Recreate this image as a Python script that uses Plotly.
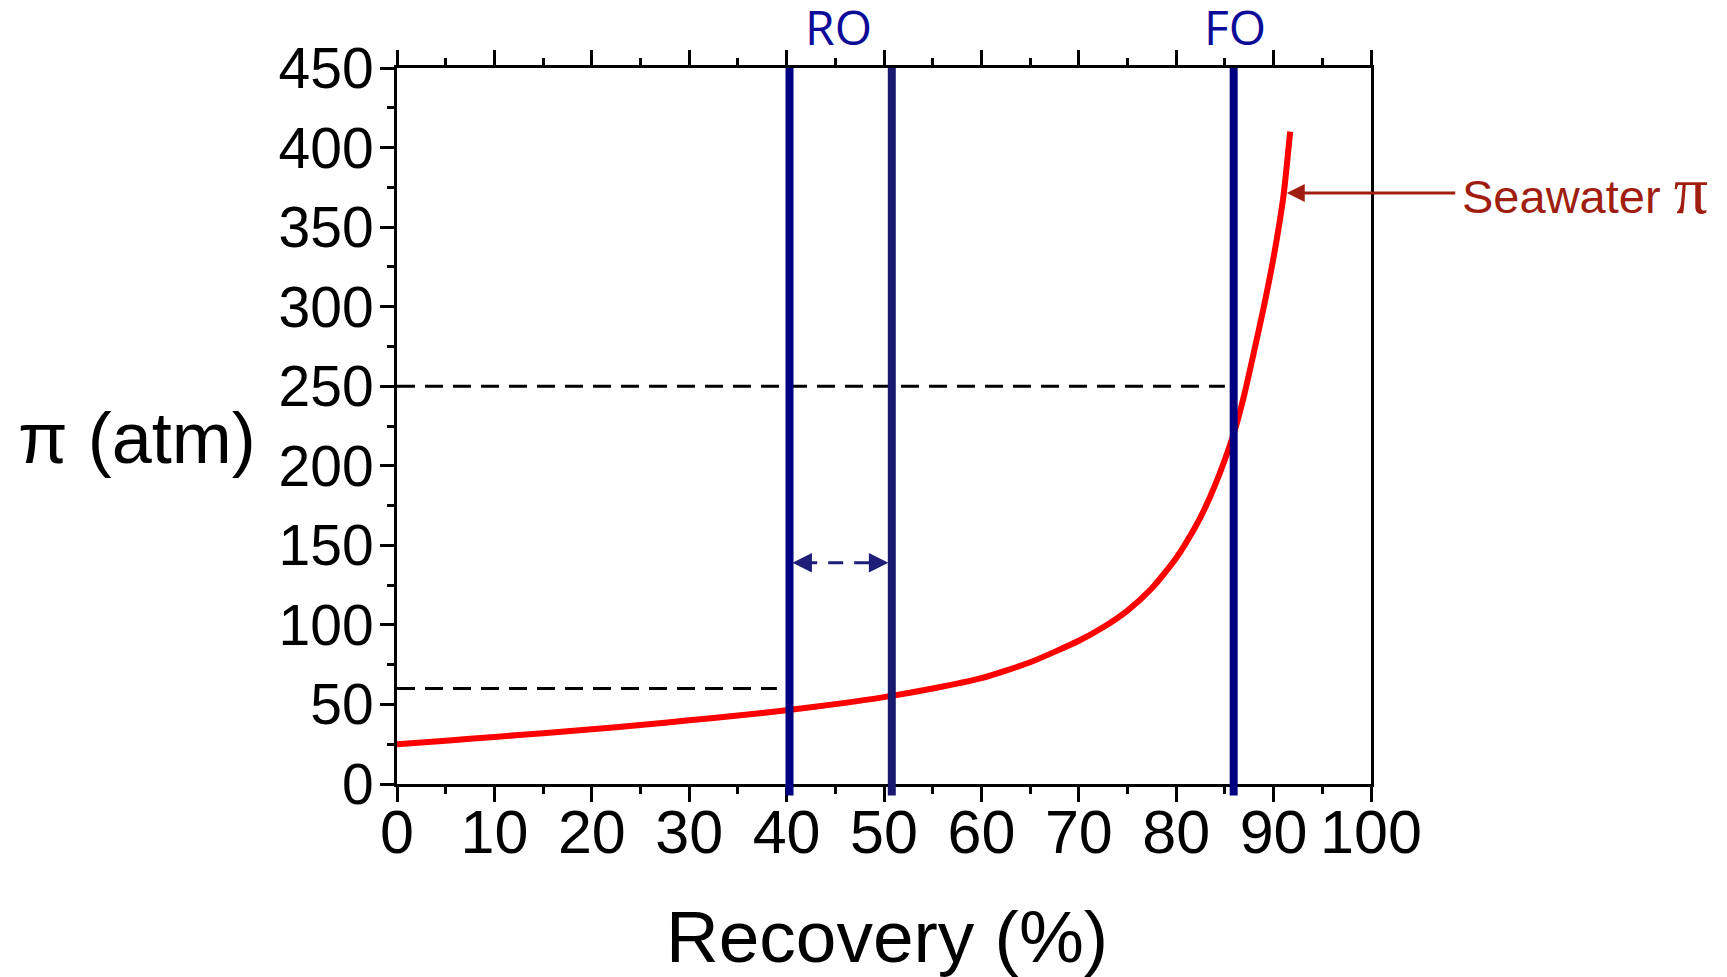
import plotly.graph_objects as go

# ---- data ----
recovery = [0, 5, 10, 15, 20, 25, 30, 35, 40, 45, 50, 55, 60, 65, 70, 72.5, 75, 77.5,
            80, 82, 83, 84, 85, 86, 87, 88, 89, 90, 91, 91.7]
seawater_pi = [25, 27.2, 29.6, 31.9, 34.4, 37.1, 40, 43.1, 46.3, 50.2, 54.6, 60, 66.5, 76.5,
               90, 98.5, 109, 123, 142, 162, 174, 188, 204, 222, 245, 272, 300, 331, 369, 410]

ro_lines = [40.3, 50.8]
fo_line = [85.9]
ref_levels = [60, 250]          # dashed guide levels
ref_level_ends = [39.0, 85.0]   # recovery where each guide ends
ro_arrow_y = 139
x_ticks = list(range(0, 101, 10))
y_ticks = list(range(0, 451, 50))

SANS = "Liberation Sans, Arial, sans-serif"
NAVY = "#000080"
NAVY2 = "#191970"
DARKRED = "#A01E10"

fig = go.Figure()

fig.add_trace(go.Scatter(x=recovery, y=seawater_pi, mode="lines",
                         line=dict(color="#FF0000", width=6, shape="spline", smoothing=0.6),
                         showlegend=False, hoverinfo="skip"))
# invisible trace for top axis
fig.add_trace(go.Scatter(x=[0, 100], y=[0, 0], xaxis="x2", mode="lines",
                         line=dict(width=0), showlegend=False, hoverinfo="skip"))

# dashed horizontal guides
for lvl, xe in zip(ref_levels, ref_level_ends):
    fig.add_shape(type="line", xref="x", yref="y", x0=0, x1=xe, y0=lvl, y1=lvl,
                  line=dict(color="black", width=3, dash="18px,10px"))

# vertical RO / FO lines
for i, xv in enumerate(ro_lines + fo_line):
    fig.add_shape(type="line", xref="x", yref="paper", x0=xv, x1=xv, y0=-0.016, y1=1,
                  line=dict(color=NAVY if i != 1 else NAVY2, width=8))

# RO double arrow (dashed)
fig.add_shape(type="line", xref="x", yref="y", x0=ro_lines[0] + 1.3, x1=ro_lines[1] - 1.3,
              y0=ro_arrow_y, y1=ro_arrow_y,
              line=dict(color="#1E1E78", width=3, dash="15px,11px"))
for xt, ax in [(ro_lines[0] + 0.3, 16), (ro_lines[1] - 0.35, -16)]:
    fig.add_annotation(x=xt, y=ro_arrow_y, xref="x", yref="y", ax=ax, ay=0,
                       axref="pixel", ayref="pixel", text="", showarrow=True,
                       arrowhead=2, arrowsize=1.3, arrowwidth=3, arrowcolor="#1E1E78",
                       standoff=0)

# RO / FO labels
lab_font = dict(family="Open Sans, Noto Sans, sans-serif", size=48, color="#0C0C99")
for xl, txt in [(45.28, "RO"), (fo_line[0] + 0.1, "FO")]:
    fig.add_annotation(x=xl, y=1.0582, xref="x", yref="paper", height=46, valign="middle",
                       xanchor="center", yanchor="middle", text=txt, showarrow=False,
                       font=lab_font)

# Seawater pi arrow + label
fig.add_annotation(x=91.35, y=371.5, xref="x", yref="y", ax=170, ay=0,
                   axref="pixel", ayref="pixel", text="", showarrow=True,
                   arrowhead=2, arrowsize=1.2, arrowwidth=3, arrowcolor=DARKRED, standoff=0)
fig.add_annotation(x=1.0914, y=373.5, xref="paper", yref="y", xanchor="left", yanchor="middle",
                   text="Seawater <span style='font-family:Liberation Serif, serif;font-size:68px'>π</span>",
                   showarrow=False, font=dict(family=SANS, size=47, color=DARKRED))

# axis titles
fig.add_annotation(x=-0.2674, y=0.4832, xref="paper", yref="paper", text="π (atm)",
                   xanchor="center", yanchor="middle",
                   showarrow=False, font=dict(family=SANS, size=72, color="black"))
fig.add_annotation(x=0.5027, y=-0.2123, xref="paper", yref="paper", text="Recovery (%)",
                   xanchor="center", yanchor="middle",
                   showarrow=False, font=dict(family=SANS, size=73, color="black"))

minor_x = dict(dtick=5, ticks="outside", ticklen=7, tickwidth=2.5, tickcolor="black",
               showgrid=False)
fig.update_layout(
    width=1727, height=977,
    margin=dict(l=389, r=364, t=60, b=201, pad=0),
    paper_bgcolor="white", plot_bgcolor="white",
    xaxis=dict(range=[0, 100], tickvals=x_ticks, ticks="outside", ticklen=15, tickwidth=2.5,
               tickcolor="black", showline=True, linecolor="black", linewidth=3,
               showgrid=False, zeroline=False, ticklabelstandoff=-22,
               tickfont=dict(family=SANS, size=61, color="black"),
               minor=minor_x),
    xaxis2=dict(range=[0, 100], overlaying="x", side="top", anchor="y",
                tickvals=x_ticks, ticks="outside", ticklen=15, tickwidth=2.5, tickcolor="black",
                showticklabels=False, showline=True, linecolor="black", linewidth=3,
                showgrid=False, zeroline=False, minor=minor_x),
    yaxis=dict(range=[0, 450], tickvals=y_ticks, ticks="outside", ticklen=14, tickwidth=2.5,
               tickcolor="black", showline=True, linecolor="black", linewidth=3, mirror=True,
               showgrid=False, zeroline=False, ticklabelstandoff=-5,
               tickfont=dict(family=SANS, size=57, color="black"),
               minor=dict(dtick=25, ticks="outside", ticklen=7, tickwidth=2.5, tickcolor="black",
                          showgrid=False)),
)

fig.write_html("out.html")
